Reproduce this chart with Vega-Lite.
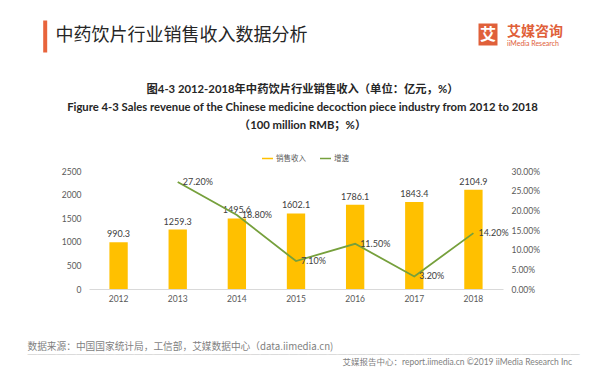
{
  "$schema": "https://vega.github.io/schema/vega-lite/v6.json",
  "width": 414,
  "height": 118,
  "autosize": {"type": "none"},
  "padding": {"left": 89, "top": 171, "right": 96, "bottom": 92},
  "background": "white",
  "config": {
    "view": {"stroke": null},
    "font": "Lato, Noto Sans CJK SC",
    "axis": {"grid": false, "labelFont": "Lato, Noto Sans CJK SC", "titleFont": "Lato, Noto Sans CJK SC"}
  },
  "title": {
    "text": "艾媒咨询",
    "subtitle": "iiMedia Research",
    "anchor": "start",
    "frame": "group",
    "dx": 418,
    "offset": -27,
    "font": "Noto Sans CJK SC",
    "fontSize": 14,
    "fontWeight": "bold",
    "color": "#E0603A",
    "subtitleFont": "Lato",
    "subtitleFontSize": 7,
    "subtitleColor": "#E0603A",
    "subtitlePadding": 1
  },
  "data": {
    "values": [
      {"year": "2012", "revenue": 990.3, "growth": null},
      {"year": "2013", "revenue": 1259.3, "growth": 0.272},
      {"year": "2014", "revenue": 1495.6, "growth": 0.188},
      {"year": "2015", "revenue": 1602.1, "growth": 0.071},
      {"year": "2016", "revenue": 1786.1, "growth": 0.115},
      {"year": "2017", "revenue": 1843.4, "growth": 0.032},
      {"year": "2018", "revenue": 2104.9, "growth": 0.142}
    ]
  },
  "layer": [
    {
      "mark": {"type": "bar"},
      "encoding": {
        "x": {
          "field": "year", "type": "ordinal",
          "scale": {"paddingInner": 0.69, "paddingOuter": 0.345},
          "axis": {
            "orient": "bottom", "labelAngle": 0, "labelFontSize": 8.5, "labelColor": "#595959",
            "labelPadding": 5, "ticks": false, "domainColor": "#d9d9d9",
            "title": ["数据来源：中国国家统计局，工信部，艾媒数据中心（data.iimedia.cn)", "─────────────────────────────────────────────────────────"],
            "titleX": -62, "titleY": 52, "titleAlign": "left", "titleBaseline": "top", "titleLineHeight": 9,
            "titleFontSize": 9.7, "titleFontWeight": "normal", "titleColor": "#7f7f7f",
            "titleFont": "Noto Sans CJK SC"
          }
        },
        "y": {
          "field": "revenue", "type": "quantitative",
          "scale": {"domain": [0, 2500]},
          "axis": {
            "orient": "left", "values": [0, 500, 1000, 1500, 2000, 2500], "format": "d",
            "domain": false, "ticks": false, "labelPadding": 8, "labelFontSize": 8.5, "labelColor": "#595959",
            "title": "中药饮片行业销售收入数据分析",
            "titleAngle": 0, "titleX": -34, "titleY": -136, "titleAlign": "left", "titleBaseline": "middle",
            "titleFontSize": 18, "titleFontWeight": "normal", "titleColor": "#262626", "titleFont": "Noto Sans CJK SC"
          }
        },
        "color": {
          "datum": "销售收入",
          "scale": {"domain": ["销售收入", "增速"], "range": ["#FFC000", "#76A03C"]},
          "legend": {
            "orient": "none", "legendX": 172, "legendY": -19, "direction": "horizontal", "title": null,
            "symbolType": "stroke", "symbolSize": 121, "symbolStrokeWidth": 2,
            "labelFontSize": 7.5, "labelColor": "#595959", "labelFont": "Noto Sans CJK SC",
            "columnPadding": 11, "labelOffset": 2,
            "encode": {
              "symbols": {
                "update": {
                  "stroke": {"condition": {"test": "datum.value === '销售收入'", "value": "#FFC000"}, "value": "#76A03C"},
                  "strokeWidth": {"condition": {"test": "datum.value === '销售收入'", "value": 4.5}, "value": 1.5}
                }
              }
            }
          }
        }
      }
    },
    {
      "mark": {"type": "text", "baseline": "bottom", "dy": -3, "fontSize": 9, "color": "#404040"},
      "encoding": {
        "x": {"field": "year", "type": "ordinal"},
        "y": {
          "field": "revenue", "type": "quantitative",
          "scale": {"domain": [0, 2500]},
          "axis": {
            "orient": "left", "values": [0], "labels": false, "domain": false,
            "ticks": true, "tickSize": 4, "tickWidth": 32, "tickColor": "#E8643C", "tickOffset": -253, "offset": 42.3,
            "title": ["图4-3 2012-2018年中药饮片行业销售收入（单位：亿元，%）", "Figure 4-3 Sales revenue of the Chinese medicine decoction piece industry from 2012 to 2018", "（100 million RMB；%）"],
            "titleAngle": 0, "titleX": 255.3, "titleY": -87.5, "titleAlign": "center", "titleBaseline": "top", "titleLineHeight": 18,
            "titleFontSize": 11.3, "titleFontWeight": "bold", "titleColor": "#262626"
          }
        },
        "text": {"field": "revenue", "type": "quantitative", "format": ".1f"}
      }
    },
    {
      "transform": [{"filter": "datum.growth != null"}],
      "mark": {"type": "line", "strokeWidth": 1.8},
      "encoding": {
        "x": {"field": "year", "type": "ordinal"},
        "y": {
          "field": "growth", "type": "quantitative",
          "scale": {"domain": [0, 0.3]},
          "axis": {
            "orient": "right", "values": [0, 0.05, 0.1, 0.15, 0.2, 0.25, 0.3], "format": ".2%",
            "domain": false, "ticks": false, "labelPadding": 8, "labelFontSize": 8.5, "labelColor": "#595959",
            "title": "艾媒报告中心：report.iimedia.cn  ©2019  iiMedia Research Inc",
            "titleAngle": 0, "titleX": -161, "titleY": 190, "titleAlign": "left", "titleBaseline": "middle",
            "titleFontSize": 8.5, "titleFontWeight": "normal", "titleColor": "#7f7f7f"
          }
        },
        "color": {"datum": "增速"}
      }
    },
    {
      "transform": [{"filter": "datum.growth != null"}],
      "mark": {"type": "text", "align": "left", "baseline": "middle", "dx": 5, "fontSize": 9, "color": "#404040"},
      "encoding": {
        "x": {"field": "year", "type": "ordinal"},
        "y": {
          "field": "growth", "type": "quantitative",
          "scale": {"domain": [0, 0.3]},
          "axis": {
            "orient": "right", "values": [0], "labels": false, "domain": false,
            "ticks": true, "tickSize": 19, "tickWidth": 22, "tickColor": "#E0603A", "tickOffset": -255, "offset": -25,
            "title": "艾", "titleAngle": 0, "titleX": 9.5, "titleY": -137, "titleAlign": "center", "titleBaseline": "middle",
            "titleFontSize": 16, "titleFontWeight": "bold", "titleColor": "white", "titleFont": "Noto Sans CJK SC"
          }
        },
        "text": {"field": "growth", "type": "quantitative", "format": ".2%"}
      }
    }
  ],
  "resolve": {
    "scale": {"y": "independent"}
  }
}
